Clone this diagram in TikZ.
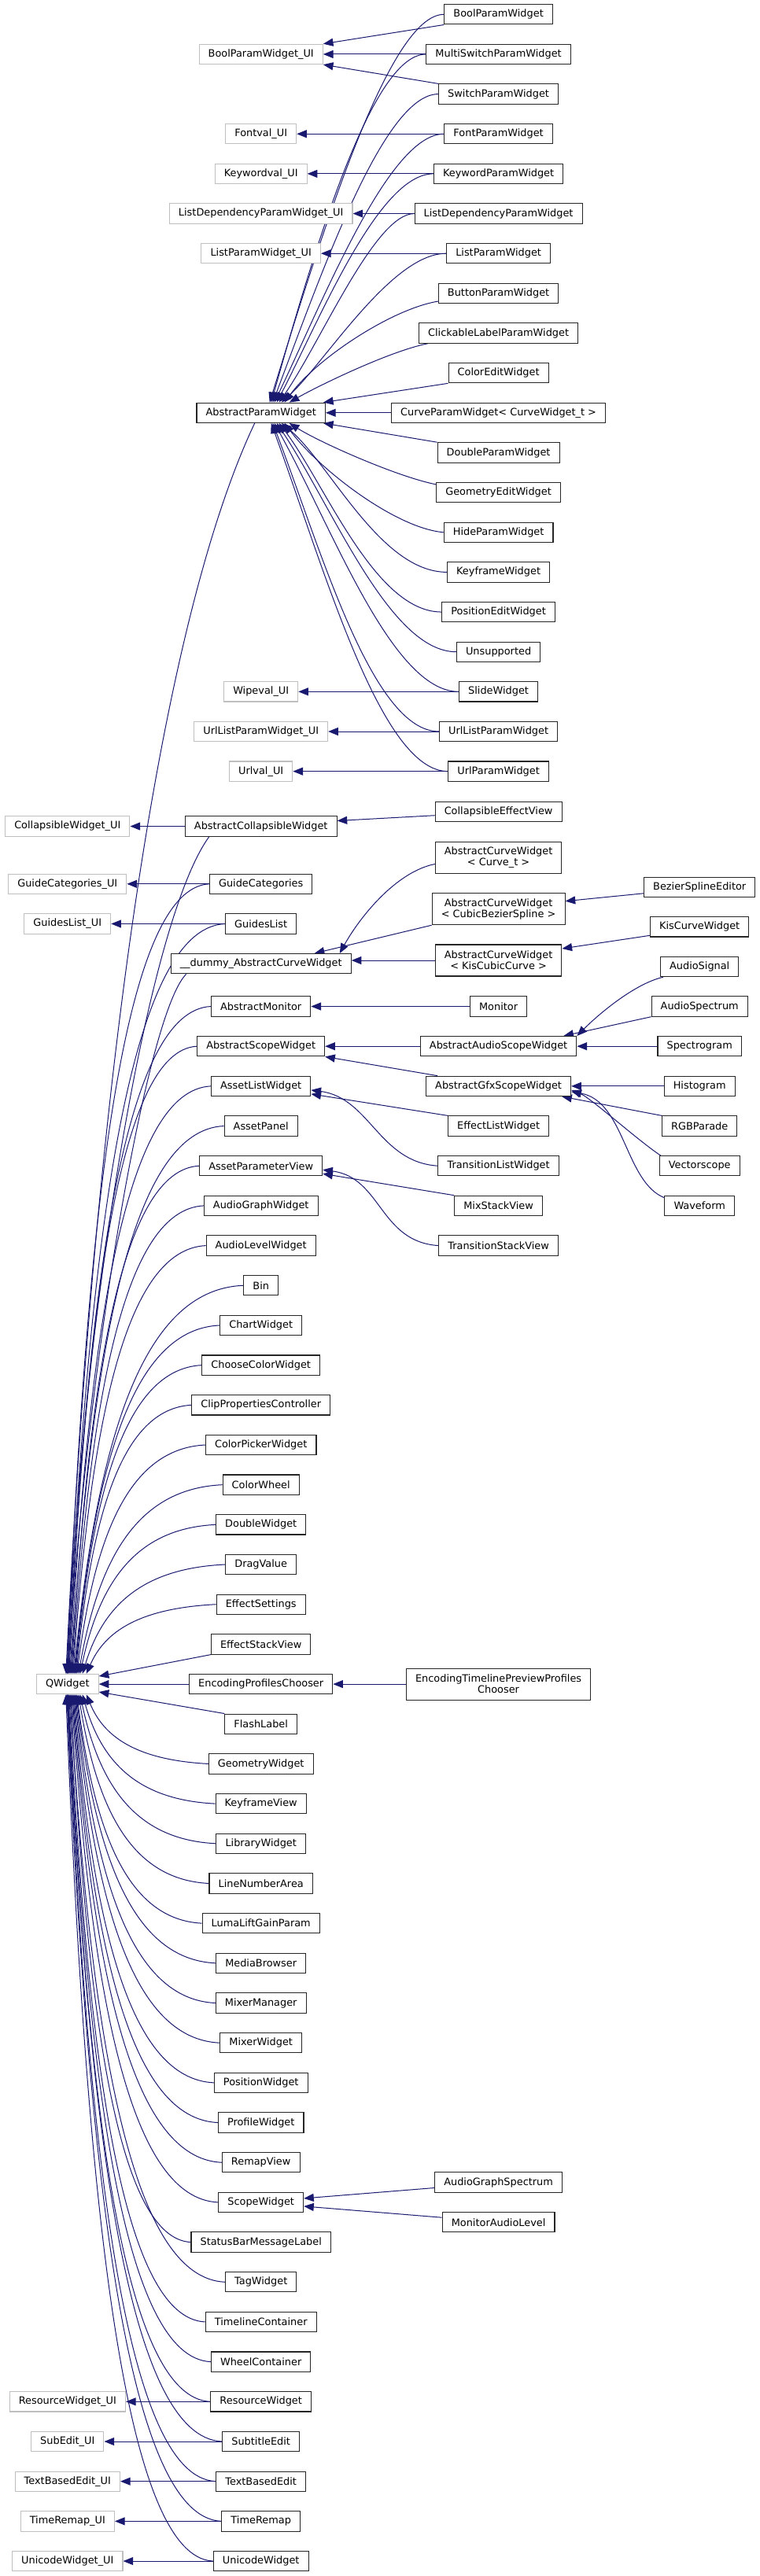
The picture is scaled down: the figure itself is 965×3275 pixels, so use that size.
\documentclass[tikz,border=0pt]{standalone}
\usepackage{fontspec}
\setmainfont{DejaVu Sans}
\usetikzlibrary{arrows.meta,calc,backgrounds}
\definecolor{edgeblue}{RGB}{25,25,112}
\definecolor{nodegray}{RGB}{191,191,191}
\tikzset{
  cls/.style={draw=black!85, line width=0.8pt, fill=white, inner xsep=8.7pt, inner ysep=0pt,
    minimum height=19pt, font=\fontsize{9.66pt}{10.5pt}\selectfont, text=black},
  extcls/.style={cls, draw=nodegray},
  two/.style={cls, align=center, minimum height=30pt},
  inh/.style={draw=edgeblue, line width=0.75pt, -{Triangle[length=9.5pt,width=7.5pt]}},
}
% curve: start, end, c1 offset (rel. start), turn point offset (rel. start), fraction
\newcommand\Ecv[5]{%
  \coordinate (cvS) at (#1);%
  \coordinate (cvE) at (#2);%
  \coordinate (cvT) at ($(cvS)+(#4)$);%
  \draw[inh] (cvS) .. controls ($(cvS)+(#3)$) and ($(cvE)!#5!(cvT)$) .. (cvE);}
% curve: start, c1 offset (rel. start), c2 offset (rel. end), end
\newcommand\Ebz[4]{%
  \coordinate (bzS) at (#1);%
  \coordinate (bzE) at (#4);%
  \draw[inh] (bzS) .. controls ($(bzS)+(#2)$) and ($(bzE)+(#3)$) .. (bzE);}
% fan edge into QWidget: child, end point, small vertical nudge of first control
\newcommand\Eq[3]{%
  \coordinate (cvS) at (#1.west);%
  \coordinate (cvE) at (#2);%
  \coordinate (cvA) at ($(cvS)!0.6!(cvS -| cvE)$);%
  \coordinate (cvX) at ($(cvE)!0.14!(cvS)$);%
  \coordinate (cvY) at ($(cvE)!0.6!(cvS)$);%
  \draw[inh] (cvS) .. controls ($(cvA)+(0,#3)$) and (cvY -| cvX) .. (cvE);}
\newcommand\Equp[2]{\Eq{#1}{$(qw.north)+(#2,0)$}{5}}
\newcommand\Eqdn[2]{\Eq{#1}{$(qw.south)+(#2,0)$}{-5}}
\newcommand\Eaup[4]{\Ecv{#1.west}{$(apw.north)+(#2,0)$}{#3}{#4}{0.55}}
\newcommand\Eadn[2]{\Ecv{#1.west}{$(apw.south)+(#2,0)$}{-85,0}{-100,-100}{0.55}}
\begin{document}
\begin{tikzpicture}[x=0.75pt,y=-0.75pt]
\useasboundingbox (0,0) rectangle (965,3275);
% ---------- upper section ----------
\node[cls] (bpw) at (633.6,18.3) {BoolParamWidget};
\node[extcls] (bpu) at (331.7,68.95) {BoolParamWidget\_UI};
\node[cls] (msw) at (633.6,68.95) {MultiSwitchParamWidget};
\node[cls] (spw) at (633.6,119.6) {SwitchParamWidget};
\node[extcls] (fvu) at (331.7,170.25) {Fontval\_UI};
\node[cls] (fpw) at (633.6,170.25) {FontParamWidget};
\node[extcls] (kvu) at (331.7,220.9) {Keywordval\_UI};
\node[cls] (kpw) at (633.6,220.9) {KeywordParamWidget};
\node[extcls] (ldu) at (331.7,271.55) {ListDependencyParamWidget\_UI};
\node[cls] (ldw) at (633.6,271.55) {ListDependencyParamWidget};
\node[extcls] (lpu) at (331.7,322.2) {ListParamWidget\_UI};
\node[cls] (lpw) at (633.6,322.2) {ListParamWidget};
\node[cls] (btn) at (633.6,372.85) {ButtonParamWidget};
\node[cls] (clk) at (633.6,423.5) {ClickableLabelParamWidget};
\node[cls] (cew) at (633.6,474.15) {ColorEditWidget};
\node[cls] (apw) at (331.7,524.8) {AbstractParamWidget};
\node[cls] (cpw) at (633.6,524.8) {CurveParamWidget< CurveWidget\_t >};
\node[cls] (dpw) at (633.6,575.45) {DoubleParamWidget};
\node[cls] (gew) at (633.6,626.1) {GeometryEditWidget};
\node[cls] (hpw) at (633.6,676.75) {HideParamWidget};
\node[cls] (kfw) at (633.6,727.4) {KeyframeWidget};
\node[cls] (pew) at (633.6,778.05) {PositionEditWidget};
\node[cls] (uns) at (633.6,828.7) {Unsupported};
\node[extcls] (wvu) at (331.7,879.35) {Wipeval\_UI};
\node[cls] (sld) at (633.6,879.35) {SlideWidget};
\node[extcls] (ulu) at (331.7,930) {UrlListParamWidget\_UI};
\node[cls] (ulw) at (633.6,930) {UrlListParamWidget};
\node[extcls] (uvu) at (331.7,980.65) {Urlval\_UI};
\node[cls] (upw) at (633.6,980.65) {UrlParamWidget};
% ---------- middle section ----------
\node[extcls] (cwu) at (85.8,1050.5) {CollapsibleWidget\_UI};
\node[cls] (acw) at (331.7,1050.5) {AbstractCollapsibleWidget};
\node[cls] (cev) at (633.6,1031.7) {CollapsibleEffectView};
\node[two] (acc) at (633.6,1090.5) {AbstractCurveWidget\\< Curve\_t >};
\node[extcls] (gcu) at (85.8,1123.8) {GuideCategories\_UI};
\node[cls] (gct) at (331.7,1123.8) {GuideCategories};
\node[cls] (bse) at (889.2,1127.8) {BezierSplineEditor};
\node[two] (acb) at (633.6,1155.7) {AbstractCurveWidget\\< CubicBezierSpline >};
\node[extcls] (glu) at (85.8,1174.5) {GuidesList\_UI};
\node[cls] (gls) at (331.7,1174.5) {GuidesList};
\node[cls] (kcw) at (889.2,1178.3) {KisCurveWidget};
\node[cls] (dum) at (331.7,1225.2) {\_\_dummy\_AbstractCurveWidget};
\node[two] (ack) at (633.6,1221) {AbstractCurveWidget\\< KisCubicCurve >};
\node[cls] (asg) at (889.2,1229) {AudioSignal};
% ---------- lower section ----------
\node[cls] (amo) at (331.7,1279.5) {AbstractMonitor};
\node[cls] (mon) at (633.6,1279.5) {Monitor};
\node[cls] (asp) at (889.2,1279.5) {AudioSpectrum};
\node[cls] (asw) at (331.7,1330.18) {AbstractScopeWidget};
\node[cls] (aas) at (633.6,1330.18) {AbstractAudioScopeWidget};
\node[cls] (spg) at (889.2,1330.18) {Spectrogram};
\node[cls] (alw) at (331.7,1380.86) {AssetListWidget};
\node[cls] (ags) at (633.6,1380.86) {AbstractGfxScopeWidget};
\node[cls] (his) at (889.2,1380.86) {Histogram};
\node[cls] (apn) at (331.7,1431.54) {AssetPanel};
\node[cls] (elw) at (633.6,1431.54) {EffectListWidget};
\node[cls] (rgb) at (889.2,1431.54) {RGBParade};
\node[cls] (apv) at (331.7,1482.22) {AssetParameterView};
\node[cls] (tlw) at (633.6,1482.22) {TransitionListWidget};
\node[cls] (vec) at (889.2,1482.22) {Vectorscope};
\node[cls] (agw) at (331.7,1532.9) {AudioGraphWidget};
\node[cls] (msv) at (633.6,1532.9) {MixStackView};
\node[cls] (wav) at (889.2,1532.9) {Waveform};
\node[cls] (alv) at (331.7,1583.58) {AudioLevelWidget};
\node[cls] (tsv) at (633.6,1583.58) {TransitionStackView};
\node[cls] (bin) at (331.7,1634.26) {Bin};
\node[cls] (chw) at (331.7,1684.94) {ChartWidget};
\node[cls] (ccw) at (331.7,1735.62) {ChooseColorWidget};
\node[cls] (cpc) at (331.7,1786.3) {ClipPropertiesController};
\node[cls] (cpk) at (331.7,1836.98) {ColorPickerWidget};
\node[cls] (cwh) at (331.7,1887.66) {ColorWheel};
\node[cls] (dbw) at (331.7,1938.34) {DoubleWidget};
\node[cls] (drv) at (331.7,1989.02) {DragValue};
\node[cls] (efs) at (331.7,2039.7) {EffectSettings};
\node[cls] (esv) at (331.7,2090.38) {EffectStackView};
\node[extcls] (qw) at (85.8,2141.06) {QWidget};
\node[cls] (epc) at (331.7,2141.06) {EncodingProfilesChooser};
\node[two] (etp) at (633.6,2141.06) {EncodingTimelinePreviewProfiles\\Chooser};
\node[cls] (fla) at (331.7,2191.74) {FlashLabel};
\node[cls] (gmw) at (331.7,2242.42) {GeometryWidget};
\node[cls] (kfv) at (331.7,2293.1) {KeyframeView};
\node[cls] (lib) at (331.7,2343.78) {LibraryWidget};
\node[cls] (lna) at (331.7,2394.46) {LineNumberArea};
\node[cls] (llg) at (331.7,2445.14) {LumaLiftGainParam};
\node[cls] (mbr) at (331.7,2495.82) {MediaBrowser};
\node[cls] (mxm) at (331.7,2546.5) {MixerManager};
\node[cls] (mxw) at (331.7,2597.18) {MixerWidget};
\node[cls] (psw) at (331.7,2647.86) {PositionWidget};
\node[cls] (prw) at (331.7,2698.54) {ProfileWidget};
\node[cls] (rmv) at (331.7,2749.22) {RemapView};
\node[cls] (scw) at (331.7,2799.9) {ScopeWidget};
\node[cls] (agsp) at (633.6,2774.5) {AudioGraphSpectrum};
\node[cls] (mal) at (633.6,2825.2) {MonitorAudioLevel};
\node[cls] (sbm) at (331.7,2850.58) {StatusBarMessageLabel};
\node[cls] (tag) at (331.7,2901.26) {TagWidget};
\node[cls] (tlc) at (331.7,2951.94) {TimelineContainer};
\node[cls] (whc) at (331.7,3002.62) {WheelContainer};
\node[extcls] (rwu) at (85.8,3053.3) {ResourceWidget\_UI};
\node[cls] (rsw) at (331.7,3053.3) {ResourceWidget};
\node[extcls] (seu) at (85.8,3103.98) {SubEdit\_UI};
\node[cls] (sbe) at (331.7,3103.98) {SubtitleEdit};
\node[extcls] (tbu) at (85.8,3154.66) {TextBasedEdit\_UI};
\node[cls] (tbe) at (331.7,3154.66) {TextBasedEdit};
\node[extcls] (tru) at (85.8,3205.34) {TimeRemap\_UI};
\node[cls] (trm) at (331.7,3205.34) {TimeRemap};
\node[extcls] (uwu) at (85.8,3256.02) {UnicodeWidget\_UI};
\node[cls] (unw) at (331.7,3256.02) {UnicodeWidget};

\begin{pgfonlayer}{background}
\fill[white] (0,0) rectangle (965,3275);
% ---- upper: _UI parents ----
\draw[inh] (bpw.south west) -- (bpu.north east);
\draw[inh] (msw.west) -- (bpu.east);
\draw[inh] (spw.north west) -- (bpu.south east);
\draw[inh] (fpw.west) -- (fvu.east);
\draw[inh] (kpw.west) -- (kvu.east);
\draw[inh] (ldw.west) -- (ldu.east);
\draw[inh] (lpw.west) -- (lpu.east);
\draw[inh] (sld.west) -- (wvu.east);
\draw[inh] (ulw.west) -- (ulu.east);
\draw[inh] (upw.west) -- (uvu.east);
% ---- upper: AbstractParamWidget ----
\Eaup{bpw}{11}{-70,0}{-100,100}
\Eaup{msw}{13}{-70,0}{-100,100}
\Eaup{spw}{15}{-70,0}{-100,100}
\Eaup{fpw}{17}{-70,0}{-100,100}
\Eaup{kpw}{20}{-70,0}{-100,100}
\Eaup{ldw}{23}{-50,0}{-75,100}
\Eaup{lpw}{26}{-70,0}{-110,100}
\Ebz{$(btn.south west)+(0,-3)$}{-60,10}{40,-55}{$(apw.north)+(30,0)$}
\Ebz{$(clk.south west)+(12,0)$}{-50,10}{35,-20}{$(apw.north)+(36,0)$}
\draw[inh] (cew.south west) -- ($(apw.north east)+(-3,0)$);
\draw[inh] (cpw.west) -- (apw.east);
\draw[inh] (dpw.north west) -- ($(apw.south east)+(-3,0)$);
\Ebz{$(gew.north west)+(0,3)$}{-50,-10}{40,25}{$(apw.south)+(36,0)$}
\Ebz{hpw.west}{-60,-5}{45,60}{$(apw.south)+(30,0)$}
\Eadn{kfw}{26}
\Eadn{pew}{23}
\Eadn{uns}{20}
\Eadn{sld}{17}
\Eadn{ulw}{15}
\Eadn{upw}{13}
% ---- middle ----
\draw[inh] (acw.west) -- (cwu.east);
\draw[inh] ($(cev.west)+(0,5)$) -- ($(acw.east)+(0,-7)$);
\draw[inh] (gct.west) -- (gcu.east);
\draw[inh] (gls.west) -- (glu.east);
\Ebz{$(acc.west)+(0,8)$}{-50,10}{25,-45}{$(dum.north east)+(-15,0)$}
\draw[inh] (acb.south west) -- ($(dum.north)+(68,0)$);
\draw[inh] (ack.west) -- (dum.east |- ack.west);
\draw[inh] ($(bse.west)+(0,8)$) -- ($(acb.east)+(0,-10)$);
\draw[inh] ($(kcw.west)+(0,11)$) -- ($(ack.east)+(0,-15)$);
% ---- lower: scope / list families ----
\draw[inh] (mon.west) -- (amo.east);
\draw[inh] (aas.west) -- (asw.east);
\draw[inh] ($(ags.north west)+(15,0)$) -- (asw.south east);
\Ebz{$(asg.south west)+(4,0)$}{-35,8}{30,-30}{aas.north east}
\draw[inh] (asp.south west) -- ($(aas.north east)+(-17,0)$);
\draw[inh] (spg.west) -- (aas.east);
\draw[inh] (his.west) -- (ags.east);
\draw[inh] (rgb.north west) -- ($(ags.south east)+(-12,0)$);
\Ebz{$(vec.north west)+(2,0)$}{-30,-20}{25,10}{$(ags.east)+(0,5)$}
\Ebz{$(wav.north west)+(0,3)$}{-50,-20}{68,12}{$(ags.east)+(0,7)$}
\draw[inh] (elw.north west) -- ($(alw.east)+(0,10)$);
\Ebz{tlw.west}{-75,-5}{75,10}{$(alw.east)+(0,5)$}
\draw[inh] (msv.north west) -- ($(apv.east)+(0,10)$);
\Ebz{tsv.west}{-75,-5}{75,10}{$(apv.east)+(0,5)$}
\draw[inh] (etp.west) -- (epc.east);
\draw[inh] ($(agsp.west)+(0,7)$) -- ($(scw.east)+(0,-5)$);
\draw[inh] ($(mal.west)+(0,-6)$) -- ($(scw.east)+(0,5)$);
\draw[inh] (rsw.west) -- (rwu.east);
\draw[inh] (sbe.west) -- (seu.east);
\draw[inh] (tbe.west) -- (tbu.east);
\draw[inh] (trm.west) -- (tru.east);
\draw[inh] (unw.west) -- (uwu.east);
% ---- QWidget from above ----
\Ebz{$(apw.south)+(-8,0)$}{-124,262}{36,-728}{$(qw.north)+(-2,0)$}
\Ebz{$(acw.south west)+(31,0)$}{-80,110}{20,-450}{$(qw.north)+(-1,0)$}
\Equp{gct}{-0.5}
\Equp{gls}{0}
\Ebz{$(dum.south west)+(20,0)$}{-50,50}{25,-400}{$(qw.north)+(0.5,0)$}
\Equp{amo}{1}
\Equp{asw}{2}
\Equp{alw}{3}
\Equp{apn}{4}
\Equp{apv}{5}
\Equp{agw}{6}
\Equp{alv}{7}
\Equp{bin}{8}
\Equp{chw}{9}
\Equp{ccw}{10}
\Equp{cpc}{11}
\Equp{cpk}{12}
\Equp{cwh}{14}
\Equp{dbw}{16}
\Equp{drv}{19}
\Equp{efs}{24}
\draw[inh] (esv.south west) -- ($(qw.east)+(0,-10)$);
\draw[inh] (epc.west) -- (qw.east);
\draw[inh] (fla.north west) -- ($(qw.east)+(0,10)$);
% ---- QWidget from below ----
\Eqdn{gmw}{24}
\Eqdn{kfv}{19}
\Eqdn{lib}{16}
\Eqdn{lna}{14}
\Eqdn{llg}{12}
\Eqdn{mbr}{11}
\Eqdn{mxm}{10}
\Eqdn{mxw}{9}
\Eqdn{psw}{8}
\Eqdn{prw}{7}
\Eqdn{rmv}{6}
\Eqdn{scw}{5}
\Eqdn{sbm}{4}
\Eqdn{tag}{3}
\Eqdn{tlc}{2}
\Eqdn{whc}{1}
\Eqdn{rsw}{0.5}
\Eqdn{sbe}{0}
\Eqdn{tbe}{-0.5}
\Eqdn{trm}{-1}
\Eqdn{unw}{-2}
\end{pgfonlayer}
\end{tikzpicture}
\end{document}
